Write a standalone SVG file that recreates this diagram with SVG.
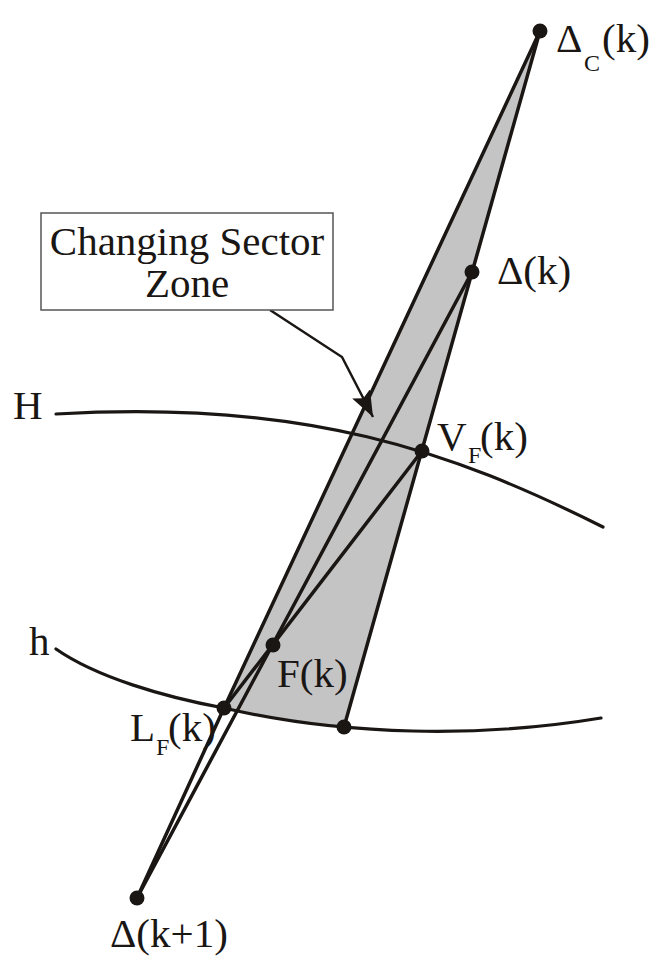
<svg xmlns="http://www.w3.org/2000/svg" width="660" height="956" viewBox="0 0 660 956">
<style>
.ln{stroke:#1a1614;stroke-width:3.5;fill:none;stroke-linecap:round}
.cv{stroke:#1a1614;stroke-width:3.2;fill:none;stroke-linecap:round}
.dot{fill:#1a1614}
.t{font-family:"Liberation Serif","Times New Roman",serif;font-size:41px;fill:#1a1614}
.s{font-size:24px}
.box{fill:#fff;stroke:#555;stroke-width:1.5}
</style>
<defs>
<marker id="ah" markerUnits="userSpaceOnUse" viewBox="0 0 26 20" refX="26" refY="10" markerWidth="26" markerHeight="20" orient="auto">
<path d="M0,0 L26,10 L0,20 L5,10 z" fill="#1a1614"/>
</marker>
</defs>
<rect width="660" height="956" fill="#fff"/>
<g id="zone">
<path d="M540,31 L224,708 L260,715.5 L298,721.6 L344,727 Z" fill="#c4c4c4"/>
</g>
<g id="curves">
<path class="cv" d="M56,414 C306,399 453,452 603,527"/>
<path class="cv" d="M56,649 C96,677 164,697 224,708 C344,736 481,738 601,718"/>
</g>
<g id="connectors">
<line class="ln" x1="540" y1="31" x2="224" y2="708"/>
<line class="ln" x1="540" y1="31" x2="344" y2="727"/>
<line class="ln" x1="137" y1="898" x2="472" y2="272"/>
<line class="ln" x1="137" y1="898" x2="224" y2="708"/>
<line class="ln" x1="224" y1="708" x2="422" y2="451"/>
<polyline points="270,310 342,357 373,417" fill="none" stroke="#1a1614" stroke-width="2.5" marker-end="url(#ah)"/>
</g>
<g id="label-box">
<rect class="box" x="41" y="213" width="292" height="97"/>
<text class="t" x="187" y="255" text-anchor="middle">Changing Sector</text>
<text class="t" x="187" y="297" text-anchor="middle">Zone</text>
</g>
<g id="node-H"><text class="t" x="13" y="419">H</text></g>
<g id="node-h"><text class="t" x="29" y="655">h</text></g>
<g id="node-DeltaC">
<circle class="dot" cx="540" cy="31" r="7.5"/>
<text class="t" x="556" y="52">Δ<tspan class="s" x="584" y="71">C</tspan><tspan x="602" y="52">(k)</tspan></text>
</g>
<g id="node-Delta">
<circle class="dot" cx="472" cy="272" r="7.5"/>
<text class="t" x="497" y="284">Δ(k)</text>
</g>
<g id="node-VF">
<circle class="dot" cx="422" cy="451" r="7.5"/>
<text class="t" x="437" y="450">V<tspan class="s" x="468" y="463">F</tspan><tspan x="480" y="450">(k)</tspan></text>
</g>
<g id="node-F">
<circle class="dot" cx="273" cy="645" r="7.5"/>
<text class="t" x="277" y="687">F(k)</text>
</g>
<g id="node-LF">
<circle class="dot" cx="224" cy="708" r="7.5"/>
<text class="t" x="130" y="741">L<tspan class="s" x="156" y="755">F</tspan><tspan x="168" y="741">(k)</tspan></text>
</g>
<g id="node-B">
<circle class="dot" cx="344" cy="727" r="7.5"/>
</g>
<g id="node-Delta1">
<circle class="dot" cx="137" cy="898" r="7.5"/>
<text class="t" x="110" y="947">Δ(k+1)</text>
</g>
</svg>
